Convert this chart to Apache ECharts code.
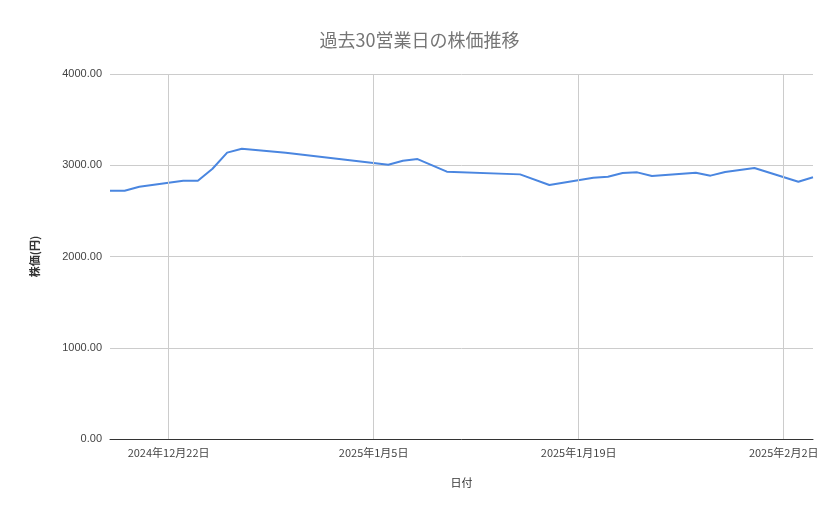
<!DOCTYPE html><html><head><meta charset="utf-8"><script src="https://cdn.jsdelivr.net/npm/echarts@6/dist/echarts.min.js"></script></head><body style="margin:0"><div id="c" style="width:839px;height:519px"></div><script>
// days offset from 2024-12-22
const days = [-4,-3,-2,0,1,2,3,4,5,8,15,16,17,19,24,26,29,30,31,32,33,36,37,38,40,43,44];
const prices = [2721,2721,2765,2809,2831,2831,2962,3138,3181,3138,3006,3050,3068,2930,2900,2784,2864,2875,2915,2922,2882,2918,2886,2926,2970,2820,2868];
const tickDays = [0,14,28,42];
const base = new Date(2024,11,22);
function lab(d){const t=new Date(base.getTime()+d*86400000);return t.getFullYear()+'年'+(t.getMonth()+1)+'月'+t.getDate()+'日';}
const ch = echarts.init(document.getElementById('c'));
ch.setOption({
 title:{text:'過去30営業日の株価推移',left:'center',top:26,textStyle:{color:'#757575',fontSize:18,fontWeight:'normal',fontFamily:'Noto Sans CJK JP'}},
 grid:{left:110,right:26,top:74,bottom:80},
 xAxis:{type:'value',min:-4,max:44,interval:2,name:'日付',nameLocation:'middle',nameGap:38,
  nameTextStyle:{color:'#333',fontSize:11,fontFamily:'Noto Sans CJK JP'},
  axisLine:{lineStyle:{color:'#333'}},axisTick:{show:false},splitLine:{show:false},
  axisLabel:{color:'#444',fontSize:11,fontFamily:'Noto Sans CJK JP',formatter:v=>tickDays.includes(v)?lab(v):''}},
 yAxis:{type:'value',min:0,max:4000,interval:1000,name:'株価(円)',nameLocation:'middle',nameGap:70,nameRotate:90,
  nameTextStyle:{color:'#333',fontSize:11,fontWeight:'bold',fontFamily:'Noto Sans CJK JP'},
  axisLine:{show:false},axisTick:{show:false},splitLine:{lineStyle:{color:'#ccc'}},
  axisLabel:{color:'#444',fontSize:11,formatter:v=>v.toFixed(2)}},
 series:[{type:'line',data:days.map((d,i)=>[d,prices[i]]),symbol:'none',lineStyle:{color:'#4a86e0',width:2},
  markLine:{silent:true,symbol:'none',label:{show:false},lineStyle:{color:'#ccc',type:'solid',width:1},data:tickDays.map(d=>({xAxis:d}))}}]
});
</script></body></html>
